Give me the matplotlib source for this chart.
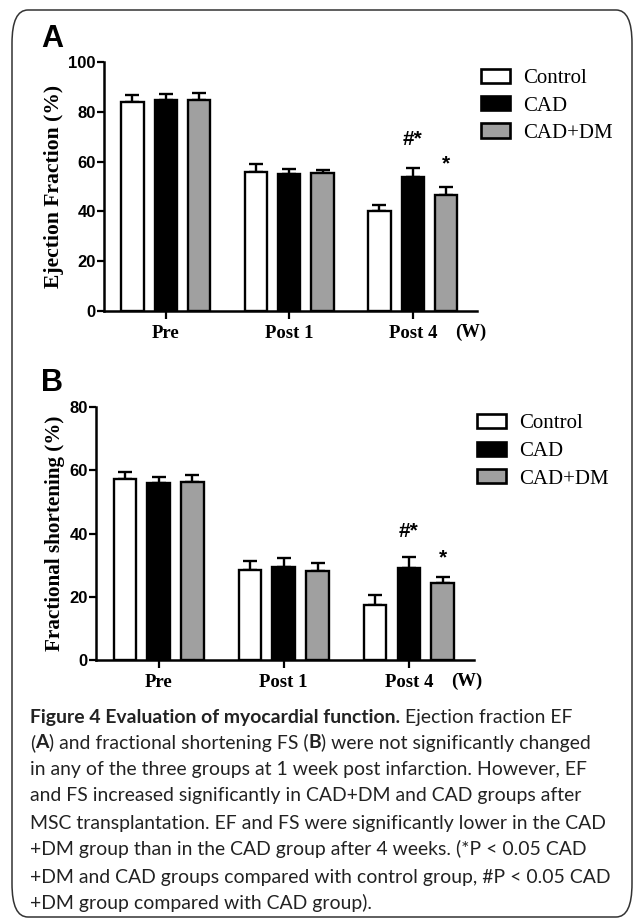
import matplotlib
matplotlib.use("Agg")
import matplotlib.pyplot as plt
import numpy as np
from matplotlib.patches import FancyBboxPatch

# ---------------- data ----------------
groups = ["Control", "CAD", "CAD+DM"]
timepoints = ["Pre", "Post 1", "Post 4"]
colors = ["#ffffff", "#000000", "#a0a0a0"]

ef_mean = {"Control": [83.8, 56.0, 40.2], "CAD": [84.6, 55.0, 54.0], "CAD+DM": [84.6, 55.5, 46.4]}
ef_err = {"Control": [2.8, 3.0, 2.4], "CAD": [2.5, 2.1, 3.6], "CAD+DM": [2.8, 1.3, 3.3]}
fs_mean = {"Control": [57.1, 28.6, 17.5], "CAD": [56.1, 29.3, 29.1], "CAD+DM": [56.3, 28.3, 24.3]}
fs_err = {"Control": [2.4, 2.8, 3.1], "CAD": [1.7, 2.9, 3.4], "CAD+DM": [2.1, 2.4, 1.9]}

ef_marks = [("#*", 2, 68.7), ("*", 2.27, 59.0)]
fs_marks = [("#*", 2, 40.5), ("*", 2.27, 32.3)]

caption_lines = [
    [("Figure 4 Evaluation of myocardial function.", "bold"), (" Ejection fraction EF", "normal")],
    [("(", "normal"), ("A", "bold"), (") and fractional shortening FS (", "normal"), ("B", "bold"),
     (") were not significantly changed", "normal")],
    [("in any of the three groups at 1 week post infarction. However, EF", "normal")],
    [("and FS increased significantly in CAD+DM and CAD groups after", "normal")],
    [("MSC transplantation. EF and FS were significantly lower in the CAD", "normal")],
    [("+DM group than in the CAD group after 4 weeks. (*P < 0.05 CAD", "normal")],
    [("+DM and CAD groups compared with control group, #P < 0.05 CAD", "normal")],
    [("+DM group compared with CAD group).", "normal")],
]

W, H = 636, 919
fig = plt.figure(figsize=(W / 100, H / 100), dpi=100)

SERIF = "Liberation Serif"
SANS = "Liberation Sans"


def fx(px):
    return px / W


def fy(py):
    return 1 - py / H


# frame
frame = FancyBboxPatch((fx(12), fy(917)), fx(632) - fx(12), fy(10) - fy(917),
                       boxstyle="round,pad=0,rounding_size=0.025", transform=fig.transFigure,
                       facecolor="none", edgecolor="#333333", linewidth=1.1, mutation_aspect=H / W)
fig.patches.append(frame)


def panel(rect, means, errs, ymax, yticks, ylabel, marks, label, label_pos, leg_anchor, leg_spacing,
          w_label_x, ylabel_size):
    ax = fig.add_axes(rect)
    x = np.arange(len(timepoints))
    width = 0.18
    offs = [-0.27, 0.0, 0.27]
    for g, c, o in zip(groups, colors, offs):
        m = np.array(means[g])
        e = np.array(errs[g])
        ax.errorbar(x + o, m, yerr=[np.zeros_like(e), e], fmt="none", ecolor="black",
                    elinewidth=1.7, capsize=5.2, capthick=1.7, zorder=2)
        ax.bar(x + o, m, width=width, color=c, edgecolor="black", linewidth=1.7, zorder=3, label=g)
    ax.set_xlim(-0.5, 2.52)
    ax.set_ylim(0, ymax)
    ax.set_yticks(yticks)
    ax.set_xticks(x)
    ax.set_xticklabels(timepoints, fontfamily=SERIF, fontweight="bold", fontsize=13.5)
    for t in ax.get_yticklabels():
        t.set_fontfamily(SANS)
        t.set_fontweight("bold")
        t.set_fontsize(12)
    ax.tick_params(axis="y", length=5, width=1.6, pad=1)
    ax.tick_params(axis="x", length=6, width=1.6, pad=4)
    for s in ["top", "right"]:
        ax.spines[s].set_visible(False)
    for s in ["left", "bottom"]:
        ax.spines[s].set_linewidth(1.8)
    ax.set_ylabel(ylabel, fontfamily=SERIF, fontweight="bold", fontsize=ylabel_size, labelpad=3)
    ax.annotate("(W)", xy=(w_label_x, 0), xycoords="data", xytext=(0, -15.5),
                textcoords="offset points", ha="center", va="center",
                fontfamily=SERIF, fontweight="bold", fontsize=13.5, annotation_clip=False)
    for txt, xm, ym in marks:
        ax.text(xm, ym, txt, ha="center", va="center", fontfamily=SANS, fontweight="bold", fontsize=15)
    fig.text(fx(label_pos[0]), fy(label_pos[1]), label, ha="left", va="center",
             fontfamily=SANS, fontweight="bold", fontsize=22)
    leg = ax.legend(loc="upper left", bbox_to_anchor=leg_anchor, bbox_transform=fig.transFigure,
                    frameon=False, borderpad=0, borderaxespad=0, handlelength=1.4, handleheight=0.68,
                    handletextpad=0.62, labelspacing=leg_spacing,
                    prop={"family": SERIF, "size": 15})
    for h in leg.legend_handles:
        h.set_linewidth(1.9)
    return ax


panel([fx(104), fy(311), fx(477) - fx(104), fy(62) - fy(311)], ef_mean, ef_err, 100,
      [0, 20, 40, 60, 80, 100], "Ejection Fraction (%)", ef_marks, "A", (41, 39),
      (fx(481), fy(69)), 0.37, 2.47, 15.6)
panel([fx(96), fy(660), fx(474) - fx(96), fy(407) - fy(660)], fs_mean, fs_err, 80,
      [0, 20, 40, 60, 80], "Fractional shortening (%)", fs_marks, "B", (41, 383),
      (fx(477), fy(414)), 0.39, 2.46, 15.2)

# caption
CAP = "Lato"
line_y = [717, 743, 769, 796, 823, 849, 877, 903]
fig.canvas.draw()
r = fig.canvas.get_renderer()
probe = fig.text(0, 0, "".join(s for s, _ in caption_lines[6]), fontfamily=CAP, fontsize=14)
wpx = probe.get_window_extent(r).width
probe.remove()
cap_size = 14 * 583 / wpx
for parts, yy in zip(caption_lines, line_y):
    xpx = 30
    for s, wgt in parts:
        t = fig.text(fx(xpx), fy(yy), s, fontfamily=CAP, fontweight=wgt, fontsize=cap_size,
                     ha="left", va="center", color="#222222")
        xpx += t.get_window_extent(r).width

fig.savefig("out.png", dpi=100)
